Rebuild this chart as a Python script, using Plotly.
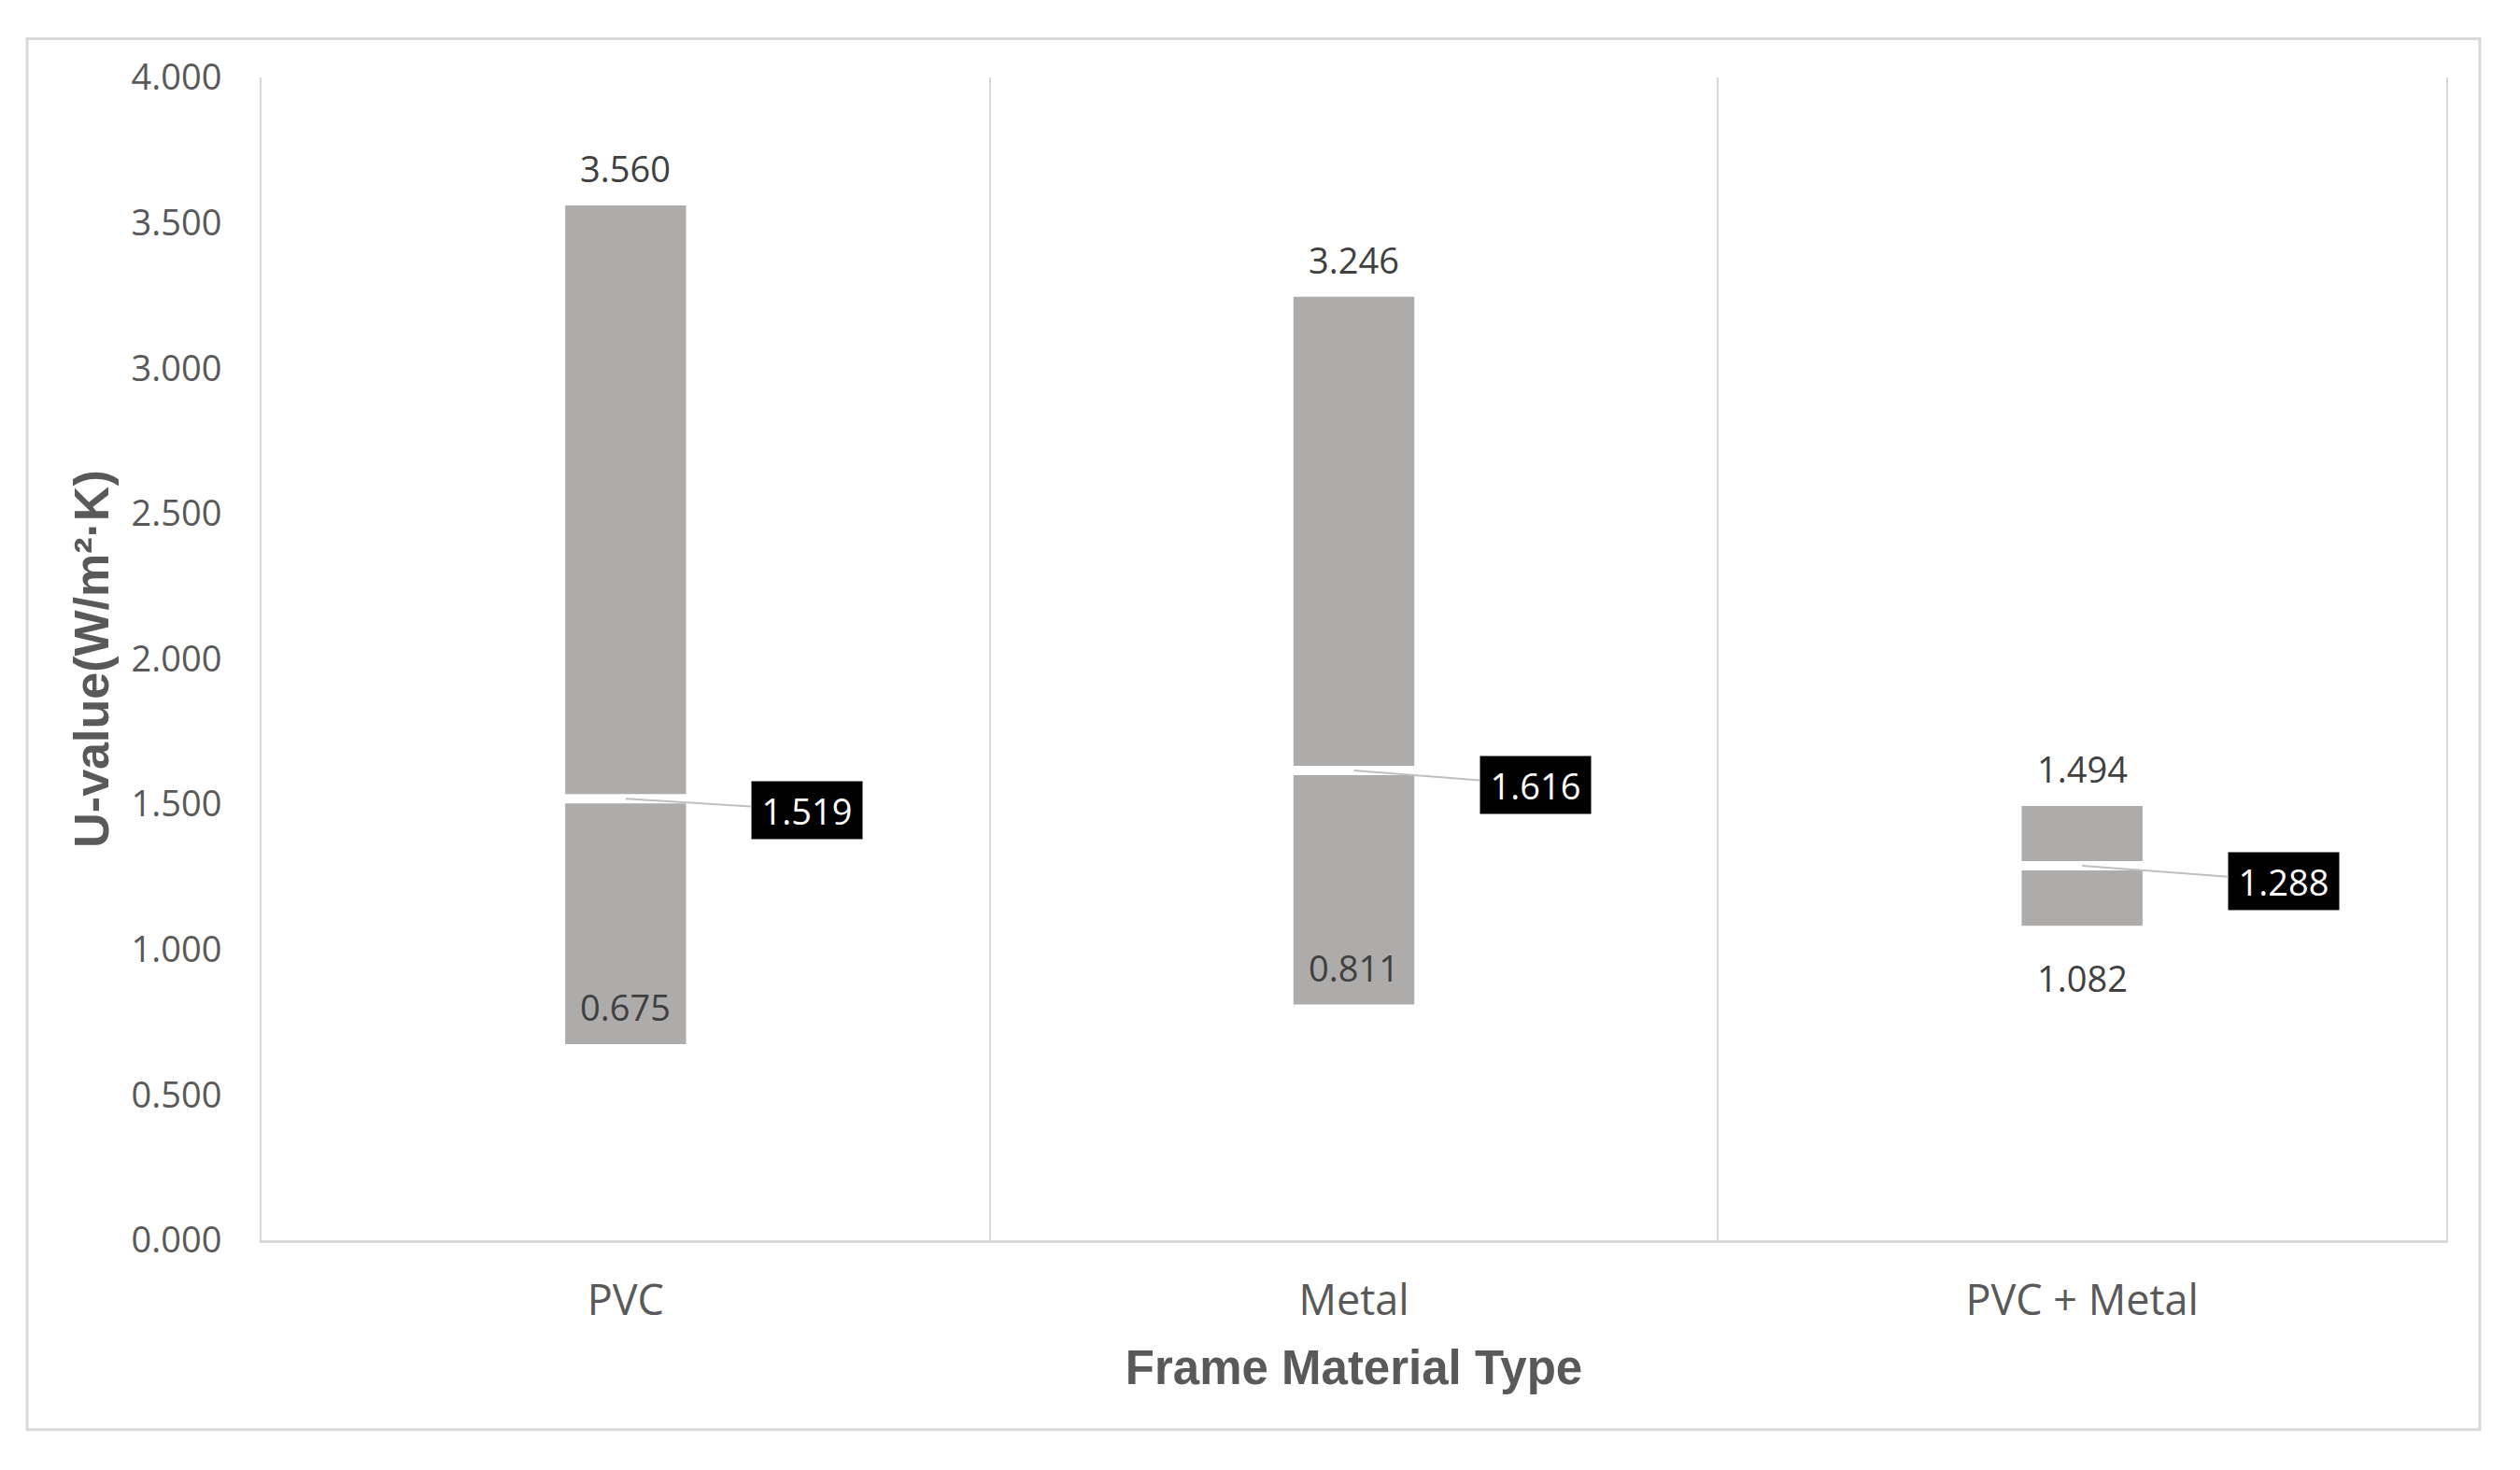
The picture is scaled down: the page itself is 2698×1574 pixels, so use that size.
import plotly.graph_objects as go

# ---- data ----
materials = ['PVC', 'Metal', 'PVC + Metal']
u_min = [0.675, 0.811, 1.082]
u_max = [3.560, 3.246, 1.494]
u_mean = [1.519, 1.616, 1.288]

# label placement (pixels)
min_label_shift = [40, 40, -56]
box_dx = [194, 194, 216]
box_dy = [12, 15, 16]

GRID = '#D9D9D9'
TXT = '#595959'
LBL = '#404040'
BAR = '#AEABAB'
TICK_FONT = 'Open Sans, Noto Sans, sans-serif'
TITLE_FONT = 'Liberation Sans, Arial, sans-serif'

fig = go.Figure()

# floating min-max bars
fig.add_trace(go.Bar(
    x=materials,
    y=[hi - lo for lo, hi in zip(u_min, u_max)],
    base=u_min,
    width=0.166,
    marker=dict(color=BAR, line=dict(width=0)),
    hoverinfo='skip',
    showlegend=False,
))

# white mean line across each bar
fig.add_trace(go.Scatter(
    x=materials, y=u_mean, mode='markers',
    marker=dict(symbol='line-ew', size=140, color='white',
                line=dict(width=10, color='white')),
    hoverinfo='skip', showlegend=False,
))

annotations = []
for i, cat in enumerate(materials):
    # max label
    annotations.append(dict(
        x=cat, y=u_max[i], text=f"{u_max[i]:.3f}", showarrow=False,
        yshift=40, font=dict(family=TICK_FONT, size=38, color=LBL),
    ))
    # min label
    annotations.append(dict(
        x=cat, y=u_min[i], text=f"{u_min[i]:.3f}", showarrow=False,
        yshift=min_label_shift[i], font=dict(family=TICK_FONT, size=38, color=LBL),
    ))
    # mean callout box
    annotations.append(dict(
        x=cat, y=u_mean[i], text=f"{u_mean[i]:.3f}",
        showarrow=True, arrowhead=0, arrowwidth=2, arrowcolor='#BFBFBF',
        ax=box_dx[i], ay=box_dy[i], standoff=0,
        bgcolor='black', borderpad=8, width=102, height=45,
        font=dict(family=TICK_FONT, size=38, color='white'),
    ))

# page body has an 8px margin, so the figure is a bit smaller than the window
fig.update_layout(
    width=2690, height=1566,
    margin=dict(l=272, r=79, t=75, b=246),
    plot_bgcolor='white', paper_bgcolor='white',
    annotations=annotations,
    shapes=[dict(type='rect', xref='paper', yref='paper',
                 x0=-0.1073, x1=1.0154, y0=-0.1628, y1=1.0333,
                 line=dict(color=GRID, width=3), layer='below')],
)

fig.update_xaxes(
    type='category', range=[-0.5, 2.5],
    tickson='boundaries', showgrid=True, gridcolor=GRID, gridwidth=2,
    showline=True, linecolor=GRID, linewidth=3, ticks='',
    ticklabelstandoff=23,
    tickfont=dict(family=TICK_FONT, size=45, color=TXT),
    title=dict(text='Frame Material Type', standoff=27,
               font=dict(family=TITLE_FONT, size=51, color=TXT, weight='bold')),
)

fig.update_yaxes(
    range=[0, 4], dtick=0.5, tick0=0, tickformat='.3f',
    showgrid=False, zeroline=False,
    showline=True, mirror=True, linecolor=GRID, linewidth=2, ticks='',
    ticklabelstandoff=33,
    tickfont=dict(family=TICK_FONT, size=38, color=TXT),
    title=dict(text='U-value(W/m²·K)', standoff=7,
               font=dict(family=TITLE_FONT, size=52, color=TXT, weight='bold')),
)

fig.write_html("out.html")
